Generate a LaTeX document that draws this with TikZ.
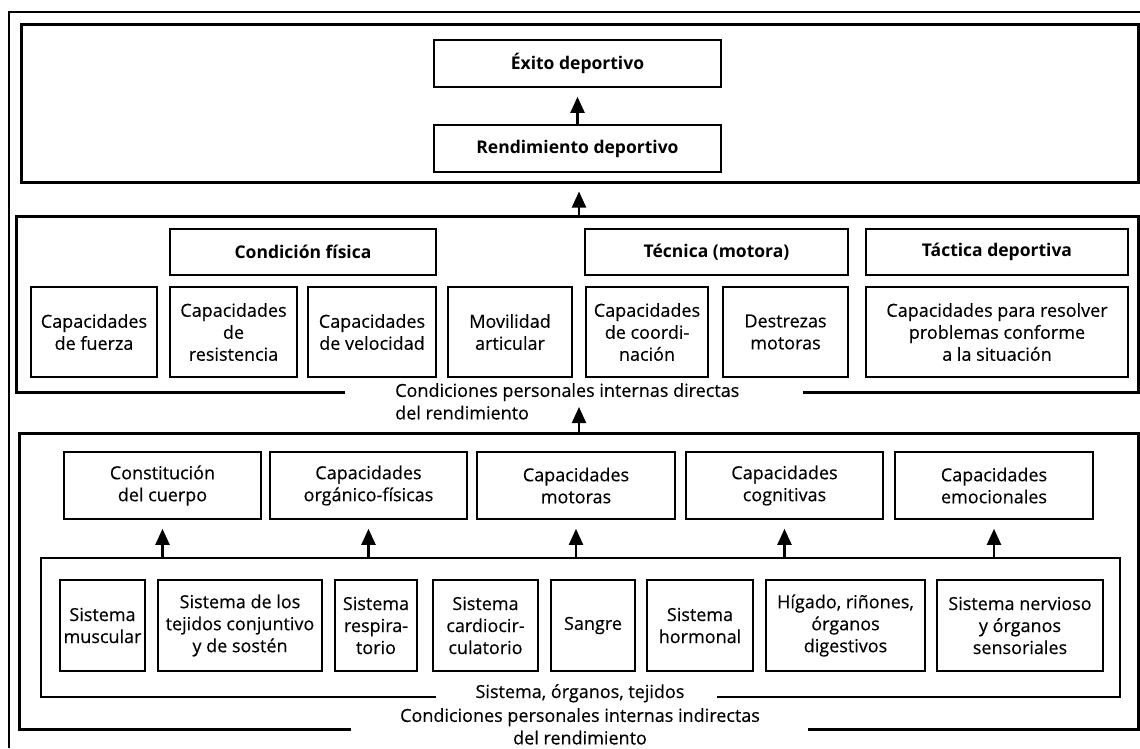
\documentclass[tikz,border=0pt]{standalone}
\usepackage{fontspec}
\setmainfont{Open Sans}[FakeBold=0.35]
\newfontfamily\titlefont{Open Sans Bold}
\usetikzlibrary{arrows.meta}
\newcommand\mybox[7][box]{%
  \pgfmathsetmacro\mbcx{(#3+#5)/2}%
  \pgfmathsetmacro\mbcy{(#4+#6)/2}%
  \pgfmathsetmacro\mbw{#5-#3}%
  \pgfmathsetmacro\mbh{#6-#4}%
  \node[#1, minimum width=\mbw pt, minimum height=\mbh pt] (#2) at (\mbcx,\mbcy) {#7};}
\begin{document}
\begin{tikzpicture}[x=1pt,y=-1pt,
  box/.style={draw, line width=1.6pt, align=center, inner xsep=1pt, inner ysep=1pt,
    font=\fontsize{18}{22}\selectfont},
  titlebox/.style={box, font=\titlefont\fontsize{17.5}{21}\selectfont},
  framebox/.style={draw, line width=3pt},
  frameline/.style={line width=3pt, line join=miter},
  innerline/.style={line width=2.6pt, line join=miter},
  outerline/.style={line width=1.8pt},
  lbl/.style={inner sep=0pt, font=\fontsize{18}{22.5}\selectfont},
  arr/.style={line width=2.2pt, -{Triangle[length=16pt,width=14pt]}}]
\useasboundingbox (0,0) rectangle (1140,748);
% outer frame
\draw[outerline] (9,748) -- (9,12) -- (1140,12);
% top section
\mybox[framebox]{topfr}{21}{24}{1138}{182}{}
\mybox[titlebox]{exito}{434}{40}{721}{87}{Éxito deportivo}
\mybox[titlebox]{rend}{434}{125}{721}{172}{Rendimiento deportivo}
\draw[arr, shorten >=9pt] (rend.north) -- (exito.south);
% middle section
\draw[frameline] (345,392) -- (16,392) -- (16,216) -- (1138,216) -- (1138,392) -- (803,392);
\coordinate (midtop) at (579,216);
\draw[arr, shorten >=8pt] (midtop) -- (topfr.south -| midtop);
\mybox[titlebox]{condfis}{170}{229}{436}{275}{Condición física}
\mybox[titlebox]{tecnica}{585}{229}{848}{275}{Técnica (motora)}
\mybox[titlebox]{tactica}{866}{229}{1128}{275}{Táctica deportiva}
\mybox{fuerza}{31}{287}{157}{377}{Capacidades\\de fuerza}
\mybox{resist}{170}{287}{297}{377}{Capacidades\\de\\resistencia}
\mybox{veloc}{308}{287}{436}{377}{Capacidades\\de velocidad}
\mybox{movil}{448}{287}{572}{377}{Movilidad\\articular}
\mybox{coord}{586}{287}{708}{377}{Capacidades\\de coordi-\\nación}
\mybox{destr}{723}{287}{848}{377}{Destrezas\\motoras}
\mybox{resolv}{866}{287}{1128}{377}{Capacidades para resolver\\problemas conforme\\a la situación}
\node[lbl, anchor=north west, align=left] (dirlbl) at (395,383)
  {Condiciones personales internas directas\\del rendimiento};
% lower section
\draw[frameline] (351,729) -- (19,729) -- (19,433) -- (1138,433) -- (1138,729) -- (808,729);
\coordinate (lowtop) at (579,433);
\coordinate (dirtip) at (579,407);
\draw[arr] (lowtop) -- (dirtip);
\mybox{const}{64}{452}{261}{519}{Constitución\\del cuerpo}
\mybox{organ}{270}{452}{467}{519}{Capacidades\\orgánico-físicas}
\mybox{motor}{477}{452}{675}{519}{Capacidades\\motoras}
\mybox{cogn}{686}{452}{883}{519}{Capacidades\\cognitivas}
\mybox{emoc}{895}{452}{1093}{519}{Capacidades\\emocionales}
% inner frame
\draw[innerline] (436,697) -- (41,697) -- (41,558) -- (1120,558) -- (1120,697) -- (717,697);
\coordinate (innertop) at (0,558);
\foreach \b in {const,organ,motor,cogn,emoc}
  \draw[arr, shorten >=9pt] (\b.south |- innertop) -- (\b.south);
\mybox{musc}{60}{580}{145}{671}{Sistema\\muscular}
\mybox{tejid}{158}{580}{322}{671}{Sistema de los\\tejidos conjuntivo\\y de sostén}
\mybox{resp}{335}{580}{417}{671}{Sistema\\respira-\\torio}
\mybox{cardio}{433}{580}{538}{671}{Sistema\\cardiocir-\\culatorio}
\mybox{sangre}{551}{580}{635}{671}{Sangre}
\mybox{hormon}{647}{580}{753}{671}{Sistema\\hormonal}
\mybox{higado}{766}{580}{925}{671}{Hígado, riñones,\\órganos\\digestivos}
\mybox{nervio}{937}{580}{1103}{671}{Sistema nervioso\\y órganos\\sensoriales}
\node[lbl, anchor=north] (sislbl) at (580,684) {Sistema, órganos, tejidos};
\node[lbl, anchor=north, align=center] (indlbl) at (580,708)
  {Condiciones personales internas indirectas\\del rendimiento};
\end{tikzpicture}
\end{document}
